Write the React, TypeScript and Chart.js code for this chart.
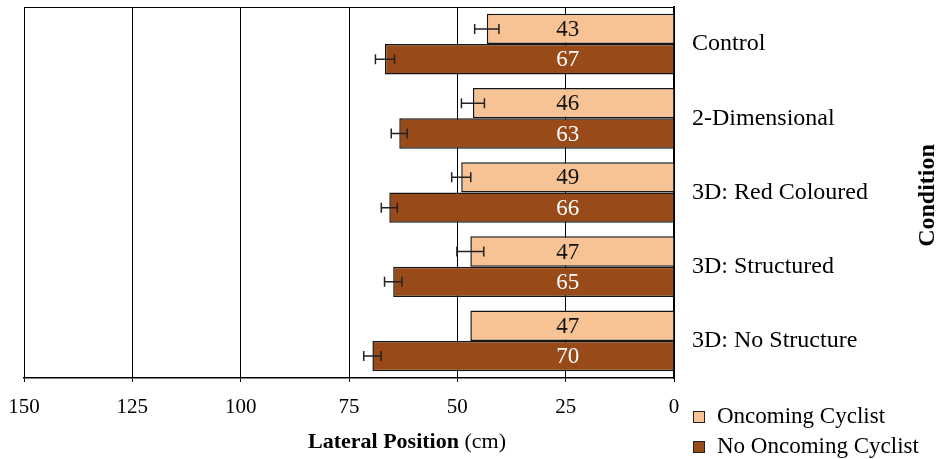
import React, { useEffect, useRef } from "react";
import { Chart, registerables } from "chart.js";

Chart.register(...registerables);

const categories = ["Control", "2-Dimensional", "3D: Red Coloured", "3D: Structured", "3D: No Structure"];
const oncomingValues = [43.2, 46.4, 49.1, 47.0, 47.0];
const noOncomingValues = [66.7, 63.4, 65.7, 64.8, 69.6];
const oncomingErrors = [2.8, 2.65, 2.2, 3.1, 0];
const noOncomingErrors = [2.2, 1.85, 1.85, 2.0, 2.0];
const xTicks = [0, 25, 50, 75, 100, 125, 150];
const seriesNames = ["Oncoming Cyclist", "No Oncoming Cyclist"];
const seriesColors = ["#F8C394", "#984A18"];
const labelColors = ["#111111", "#FFFFFF"];
const errorsBySeries = [oncomingErrors, noOncomingErrors];

const FONT = "'Liberation Serif', 'Times New Roman', serif";

const decorPlugin = {
  id: "decor",
  afterDatasetsDraw(chart: any) {
    const ctx = chart.ctx;
    const xs = chart.scales.x;
    const area = chart.chartArea;
    ctx.save();
    // error bars
    chart.data.datasets.forEach((ds: any, di: number) => {
      const meta = chart.getDatasetMeta(di);
      const errs = errorsBySeries[di];
      meta.data.forEach((el: any, i: number) => {
        const e = errs[i];
        if (!e) return;
        const v = ds.data[i];
        const x1 = xs.getPixelForValue(v - e);
        const x2 = xs.getPixelForValue(v + e);
        const y = el.y;
        ctx.strokeStyle = "#222";
        ctx.lineWidth = 1.5;
        ctx.beginPath();
        ctx.moveTo(x1, y);
        ctx.lineTo(x2, y);
        ctx.moveTo(x1, y - 5);
        ctx.lineTo(x1, y + 5);
        ctx.moveTo(x2, y - 5);
        ctx.lineTo(x2, y + 5);
        ctx.stroke();
      });
    });
    // value labels
    chart.data.datasets.forEach((ds: any, di: number) => {
      const meta = chart.getDatasetMeta(di);
      meta.data.forEach((el: any, i: number) => {
        ctx.fillStyle = labelColors[di];
        ctx.font = `23px ${FONT}`;
        ctx.textAlign = "center";
        ctx.textBaseline = "middle";
        ctx.fillText(String(Math.round(ds.data[i])), xs.getPixelForValue(24.5), el.y + 1);
      });
    });
    // top frame line
    ctx.strokeStyle = "#000";
    ctx.lineWidth = 1;
    ctx.beginPath();
    ctx.moveTo(area.left, area.top + 0.5);
    ctx.lineTo(area.right, area.top + 0.5);
    ctx.stroke();
    ctx.restore();
  },
  afterDraw(chart: any) {
    const ctx = chart.ctx;
    const area = chart.chartArea;
    ctx.save();
    // x title: bold + normal
    ctx.fillStyle = "#000";
    ctx.textBaseline = "alphabetic";
    ctx.textAlign = "left";
    const boldPart = "Lateral Position";
    const normalPart = " (cm)";
    ctx.font = `bold 22px ${FONT}`;
    const wb = ctx.measureText(boldPart).width;
    ctx.font = `22px ${FONT}`;
    const wn = ctx.measureText(normalPart).width;
    const cx = 407;
    const startX = cx - (wb + wn) / 2;
    const ty = area.bottom + 70;
    ctx.font = `bold 22px ${FONT}`;
    ctx.fillText(boldPart, startX, ty);
    ctx.font = `22px ${FONT}`;
    ctx.fillText(normalPart, startX + wb, ty);
    // y title rotated
    ctx.save();
    ctx.translate(chart.width - 11, (area.top + area.bottom) / 2 + 3);
    ctx.rotate(-Math.PI / 2);
    ctx.font = `bold 24px ${FONT}`;
    ctx.textAlign = "center";
    ctx.textBaseline = "middle";
    ctx.fillText("Condition", 0, 0);
    ctx.restore();
    // legend
    seriesNames.forEach((name, i) => {
      const bx = area.right + 19;
      const by = area.bottom + 33 + i * 30;
      ctx.fillStyle = seriesColors[i];
      ctx.fillRect(bx, by, 11, 11);
      ctx.strokeStyle = "#222";
      ctx.lineWidth = 1;
      ctx.strokeRect(bx + 0.5, by + 0.5, 11, 11);
      ctx.fillStyle = "#000";
      ctx.font = `23px ${FONT}`;
      ctx.textAlign = "left";
      ctx.textBaseline = "middle";
      ctx.fillText(name, bx + 24, by + 6);
    });
    ctx.restore();
  },
};

export default function App() {
  const ref = useRef<HTMLCanvasElement | null>(null);
  useEffect(() => {
    if (!ref.current) return;
    const chart = new Chart(ref.current, {
      type: "bar",
      data: {
        labels: categories,
        datasets: [
          {
            label: seriesNames[0],
            data: oncomingValues,
            backgroundColor: seriesColors[0],
            borderColor: "#151515",
            borderWidth: 1.5,
            categoryPercentage: 0.818,
            barPercentage: 1,
          },
          {
            label: seriesNames[1],
            data: noOncomingValues,
            backgroundColor: seriesColors[1],
            borderColor: "#151515",
            borderWidth: 1.5,
            categoryPercentage: 0.818,
            barPercentage: 1,
          },
        ],
      },
      options: {
        indexAxis: "y",
        responsive: false,
        animation: false,
        layout: { padding: { top: 7, left: 24, right: 0, bottom: 0 } },
        plugins: { legend: { display: false }, tooltip: { enabled: false } },
        scales: {
          x: {
            type: "linear",
            reverse: true,
            min: 0,
            max: 150,
            afterBuildTicks: (s: any) => {
              s.ticks = xTicks.map((v) => ({ value: v }));
            },
            afterFit: (s: any) => {
              s.height = 81;
            },
            grid: { color: "#000", lineWidth: 1, tickLength: 4 },
            border: { color: "#000", width: 1.5 },
            ticks: { color: "#000", font: { family: FONT, size: 21 }, padding: 13 },
          },
          y: {
            position: "right",
            afterFit: (s: any) => {
              s.width = 265;
              s.paddingTop = 0;
              s.paddingBottom = 0;
            },
            grid: { display: false, drawTicks: false },
            border: { color: "#000", width: 2 },
            ticks: { color: "#000", font: { family: FONT, size: 24 }, padding: 18 },
          },
        },
      },
      plugins: [decorPlugin],
    });
    return () => chart.destroy();
  }, []);
  return (
    <div style={{ position: "absolute", left: 0, top: 0, width: 939, height: 459, background: "#fff" }}>
      <canvas ref={ref} width={939} height={459} />
    </div>
  );
}
